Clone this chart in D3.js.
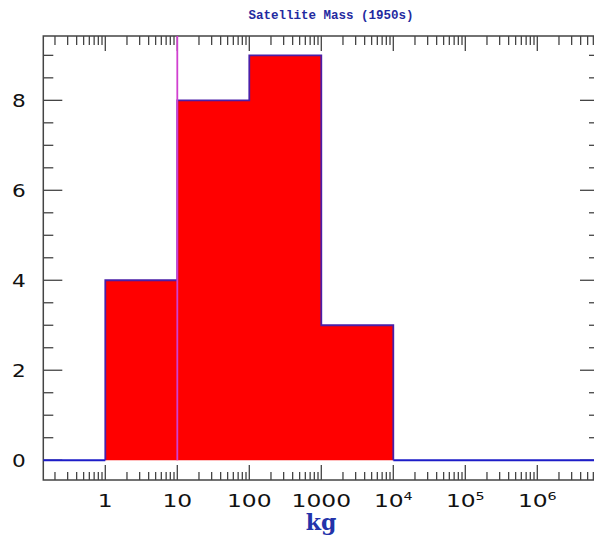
<!DOCTYPE html>
<html><head><meta charset="utf-8">
<script src="https://cdn.jsdelivr.net/npm/d3@7"></script>
<style>body{margin:0;background:#fff}svg{display:block}</style>
</head><body>
<script>
const binEdges = [1, 10, 100, 1000, 10000];
const counts = [4, 8, 9, 3];
const xTickValues = [1, 10, 100, 1000, 1e4, 1e5, 1e6];
const xTickBase = ["1", "10", "100", "1000", "10", "10", "10"];
const xTickExp = ["", "", "", "", "4", "5", "6"];
const yTickValues = [0, 2, 4, 6, 8];
const markerValue = 10;
const title = "Satellite Mass (1950s)";
const xLabel = "kg";

const W = 594, H = 538;
const L = 43.3, R = 599, T = 36, B = 480;
const svg = d3.select("body").append("svg").attr("width", W).attr("height", H);

const dec = 72, x0 = 105.3;
const x = d3.scaleLog()
  .domain([Math.pow(10, (L - x0) / dec), Math.pow(10, (R - x0) / dec)])
  .range([L, R]);
const y = d3.scaleLinear().domain([-0.44, 9.43]).range([B, T]);
const dom = x.domain();

// axes ticks (drawn first so data lies on top)
const ax = svg.append("g").attr("stroke", "#444").attr("stroke-width", 1.3);
const minorX = [];
for (let e = -1; e <= 6; e++) for (let m = 2; m <= 9; m++) {
  const v = m * Math.pow(10, e);
  if (v >= dom[0] && v <= dom[1]) minorX.push(v);
}
const majorX = [];
for (let e = 0; e <= 6; e++) majorX.push(Math.pow(10, e));
minorX.forEach(v => {
  ax.append("line").attr("x1", x(v)).attr("x2", x(v)).attr("y1", B).attr("y2", B - 8);
  ax.append("line").attr("x1", x(v)).attr("x2", x(v)).attr("y1", T).attr("y2", T + 9);
});
majorX.forEach(v => {
  ax.append("line").attr("x1", x(v)).attr("x2", x(v)).attr("y1", B).attr("y2", B - 15);
  ax.append("line").attr("x1", x(v)).attr("x2", x(v)).attr("y1", T).attr("y2", T + 15);
});
const minorY = d3.range(0, 9.5, 0.5).filter(v => v % 2 !== 0);
minorY.forEach(v => {
  ax.append("line").attr("x1", L).attr("x2", L + 10).attr("y1", y(v)).attr("y2", y(v));
  ax.append("line").attr("x1", R).attr("x2", R - 10).attr("y1", y(v)).attr("y2", y(v));
});
yTickValues.forEach(v => {
  ax.append("line").attr("x1", L).attr("x2", L + 19).attr("y1", y(v)).attr("y2", y(v));
  ax.append("line").attr("x1", R).attr("x2", R - 19).attr("y1", y(v)).attr("y2", y(v));
});
svg.append("rect").attr("x", L).attr("y", T).attr("width", R - L).attr("height", B - T)
  .attr("fill", "none").attr("stroke", "#444").attr("stroke-width", 1.5);

// filled histogram as a single area (no seams)
const area = [];
counts.forEach((c, i) => { area.push([binEdges[i], c]); area.push([binEdges[i + 1], c]); });
svg.append("path")
  .attr("d", d3.area().x(d => x(d[0])).y0(y(0)).y1(d => y(d[1]))(area))
  .attr("fill", "#ff0000");

// zero baseline outside bins
const lineGen = d3.line().x(d => x(d[0])).y(d => y(d[1]));
svg.append("path")
  .attr("d", lineGen([[dom[0], 0], [binEdges[0], 0]]))
  .attr("stroke", "#1c1cc8").attr("stroke-width", 2).attr("fill", "none");
svg.append("path")
  .attr("d", lineGen([[binEdges[binEdges.length - 1], 0], [dom[1], 0]]))
  .attr("stroke", "#1c1cc8").attr("stroke-width", 2).attr("fill", "none");

// step outline
const pts = [[binEdges[0], 0]];
counts.forEach((c, i) => { pts.push([binEdges[i], c]); pts.push([binEdges[i + 1], c]); });
pts.push([binEdges[binEdges.length - 1], 0]);
svg.append("path")
  .attr("d", lineGen(pts))
  .attr("fill", "none").attr("stroke", "#4a1fa8").attr("stroke-width", 1.8);

// marker line
svg.append("line")
  .attr("x1", x(markerValue)).attr("x2", x(markerValue))
  .attr("y1", T).attr("y2", y(0))
  .attr("stroke", "#d040d0").attr("stroke-width", 1.8);

// tick labels (slightly stretched to mimic wide plotting font)
const lblFont = "'DejaVu Sans', sans-serif";
xTickValues.forEach((v, i) => {
  const g = svg.append("g").attr("transform", `translate(${x(v)},507) scale(1.3,1)`);
  const t = g.append("text").attr("x", 0).attr("y", 0)
    .attr("text-anchor", "middle").attr("font-family", lblFont)
    .attr("font-size", 18).attr("fill", "#111");
  t.append("tspan").text(xTickBase[i]);
  if (xTickExp[i]) t.append("tspan").attr("dy", -7).attr("font-size", 11).text(xTickExp[i]);
});
yTickValues.forEach(v => {
  svg.append("g").attr("transform", `translate(19,${y(v) + 6.5}) scale(1.2,1)`)
    .append("text").attr("text-anchor", "middle").attr("font-family", lblFont)
    .attr("font-size", 18).attr("fill", "#111").text(v);
});

// title
svg.append("text").attr("x", 331).attr("y", 19).attr("text-anchor", "middle")
  .attr("font-family", "'Liberation Mono', monospace").attr("font-weight", "bold")
  .attr("font-size", 12.5).attr("fill", "#1f2aa0").text(title);

// x label
svg.append("text").attr("x", 321).attr("y", 530).attr("text-anchor", "middle")
  .attr("font-family", "'DejaVu Serif', serif").attr("font-weight", "bold")
  .attr("font-size", 22).attr("fill", "#2233aa").text(xLabel);
</script>
</body></html>
